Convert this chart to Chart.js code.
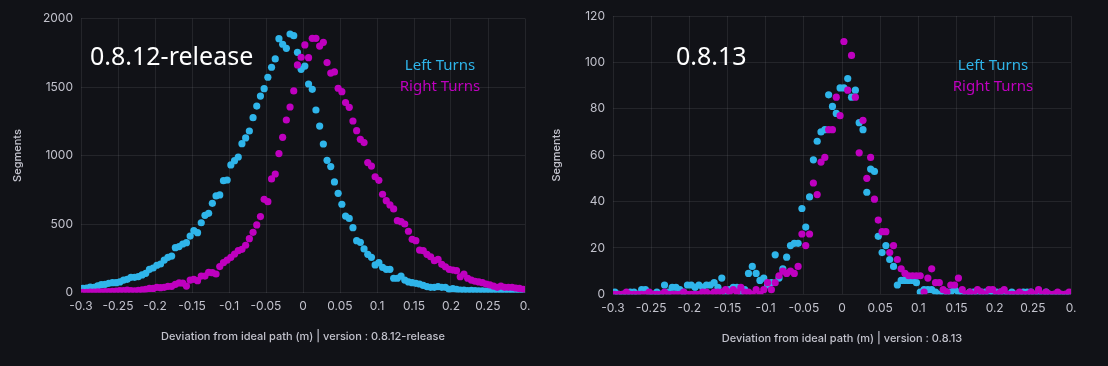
<!DOCTYPE html>
<html>
<head>
<meta charset="utf-8">
<script src="https://cdn.jsdelivr.net/npm/chart.js@4.4.1/dist/chart.umd.min.js"></script>
<style>
  html, body { margin: 0; padding: 0; background: #111217; }
  body { width: 1108px; height: 366px; position: relative; overflow: hidden; }
  canvas { position: absolute; top: 0; }
  #chart812 { left: 0; }
  #chart813 { left: 540px; }
  .version { position: absolute; top: 43px; color: #ffffff; font: 25px "Noto Sans", sans-serif; line-height: 25px; white-space: nowrap; }
  .turns { position: absolute; top: 54px; font: 15px "Noto Sans", sans-serif; line-height: 21px; text-align: center; white-space: nowrap; transform: translateX(-50%); }
</style>
</head>
<body>
<canvas id="chart812" width="540" height="366"></canvas>
<canvas id="chart813" width="568" height="366"></canvas>
<div class="version" id="ver812" style="left:90px"></div>
<div class="version" id="ver813" style="left:676px"></div>
<div class="turns" id="turns812" style="left:440px"></div>
<div class="turns" id="turns813" style="left:993px"></div>
<script>
// deviation bins (m)
const bins = [
  -0.2975, -0.2925, -0.2875, -0.2825, -0.2775, -0.2725, -0.2675, -0.2625, -0.2575, -0.2525,
  -0.2475, -0.2425, -0.2375, -0.2325, -0.2275, -0.2225, -0.2175, -0.2125, -0.2075, -0.2025,
  -0.1975, -0.1925, -0.1875, -0.1825, -0.1775, -0.1725, -0.1675, -0.1625, -0.1575, -0.1525,
  -0.1475, -0.1425, -0.1375, -0.1325, -0.1275, -0.1225, -0.1175, -0.1125, -0.1075, -0.1025,
  -0.0975, -0.0925, -0.0875, -0.0825, -0.0775, -0.0725, -0.0675, -0.0625, -0.0575, -0.0525,
  -0.0475, -0.0425, -0.0375, -0.0325, -0.0275, -0.0225, -0.0175, -0.0125, -0.0075, -0.0025,
  0.0025, 0.0075, 0.0125, 0.0175, 0.0225, 0.0275, 0.0325, 0.0375, 0.0425, 0.0475,
  0.0525, 0.0575, 0.0625, 0.0675, 0.0725, 0.0775, 0.0825, 0.0875, 0.0925, 0.0975,
  0.1025, 0.1075, 0.1125, 0.1175, 0.1225, 0.1275, 0.1325, 0.1375, 0.1425, 0.1475,
  0.1525, 0.1575, 0.1625, 0.1675, 0.1725, 0.1775, 0.1825, 0.1875, 0.1925, 0.1975,
  0.2025, 0.2075, 0.2125, 0.2175, 0.2225, 0.2275, 0.2325, 0.2375, 0.2425, 0.2475,
  0.2525, 0.2575, 0.2625, 0.2675, 0.2725, 0.2775, 0.2825, 0.2875, 0.2925, 0.2975
];

// 0.8.12-release segment counts
const left812 = [
  30, 33, 40, 38, 48, 57, 60, 67, 72, 72, 77, 91, 96, 111, 111, 116, 128, 140, 169, 179,
  199, 208, 237, 257, 266, 327, 335, 354, 364, 412, 451, 437, 509, 563, 578, 651, 705, 712, 816, 821,
  931, 962, 989, 1086, 1128, 1179, 1276, 1361, 1434, 1488, 1571, 1644, 1705, 1853, 1812, 1782, 1887, 1875, 1753, 1629,
  1653, 1522, 1483, 1332, 1215, 1084, 965, 919, 807, 724, 644, 558, 541, 473, 378, 366, 318, 279, 257, 201,
  218, 184, 169, 169, 104, 104, 120, 91, 77, 72, 67, 62, 52, 43, 38, 38, 43, 38, 38, 23,
  28, 23, 18, 18, 13, 15, 14, 12, 12, 10, 9, 8, 8, 7, 6, 6, 5, 5, 4, 4
];
const right812 = [
  2, 2, 3, 3, 4, 5, 6, 7, 9, 11, 13, 14, 17, 14, 12, 15, 19, 23, 30, 30,
  38, 35, 38, 45, 45, 60, 70, 68, 47, 91, 96, 86, 120, 120, 147, 145, 135, 189, 218, 237,
  257, 281, 305, 315, 345, 393, 439, 493, 554, 680, 663, 829, 865, 1014, 1133, 1259, 1354, 1471, 1661, 1717,
  1807, 1714, 1855, 1855, 1799, 1826, 1678, 1602, 1610, 1491, 1466, 1386, 1352, 1252, 1181, 1118, 1094, 948, 923, 845,
  819, 717, 670, 639, 610, 524, 517, 500, 447, 388, 378, 310, 305, 279, 261, 232, 242, 206, 188, 169,
  164, 159, 115, 135, 104, 91, 82, 77, 72, 62, 55, 47, 38, 47, 38, 38, 38, 33, 30, 23
];

// 0.8.13 segment counts
const left813 = [
  1, 0, 0, 0, 1, 1, 0, 2, 2, 0, 0, 1, 0, 4, 1, 3, 3, 2, 1, 4,
  4, 3, 4, 3, 4, 4, 5, 3, 7, 0, 2, 3, 3, 1, 2, 9, 12, 9, 6, 7,
  4, 5, 17, 7, 11, 16, 21, 22, 22, 37, 29, 42, 58, 66, 70, 71, 86, 81, 78, 89,
  89, 93, 85, 88, 74, 71, 44, 54, 53, 25, 18, 21, 15, 12, 4, 6, 6, 6, 6, 5,
  1, 2, 2, 2, 1, 0, 0, 1, 1, 2, 1, 0, 0, 1, 1, 0, 1, 1, 0, 1,
  1, 1, 0, 0, 1, 0, 0, 1, 1, 1, 0, 0, 0, 1, 0, 0, 0, 0, 0, 0
];
const right813 = [
  0, 0, 0, 1, 0, 0, 0, 0, 0, 1, 0, 0, 0, 1, 0, 0, 0, 0, 1, 0,
  0, 0, 0, 1, 1, 0, 1, 1, 1, 2, 1, 2, 1, 3, 1, 1, 0, 2, 0, 2,
  5, 2, 5, 8, 10, 9, 10, 9, 12, 26, 21, 26, 48, 43, 57, 59, 71, 71, 85, 77,
  109, 88, 103, 85, 61, 75, 50, 59, 41, 32, 27, 27, 18, 21, 15, 11, 9, 8, 8, 8,
  8, 1, 7, 11, 5, 5, 2, 1, 4, 4, 7, 2, 0, 1, 0, 2, 1, 0, 2, 2,
  0, 1, 2, 0, 0, 0, 1, 0, 0, 1, 0, 2, 0, 1, 0, 0, 1, 0, 0, 1
];

const seriesNames = ['Left Turns', 'Right Turns'];
const versions = ['0.8.12-release', '0.8.13'];
const xTickLabels = ['-0.3', '-0.25', '-0.2', '-0.15', '-0.1', '-0.05', '0', '0.05', '0.1', '0.15', '0.2', '0.25', '0.'];
const yTicks812 = ['0', '500', '1000', '1500', '2000'];
const yTicks813 = ['0', '20', '40', '60', '80', '100', '120'];

const leftColor = '#2fb5ea';
const rightColor = '#bf00bf';
const textColor = '#c2c2cc';
const gridColor = 'rgba(204,204,220,0.10)';

Chart.defaults.font.family = 'Inter, sans-serif';

const toPoints = (values) => bins.map((x, i) => ({ x, y: values[i] }));

const makeChart = (id, opts) => new Chart(document.getElementById(id), {
  type: 'scatter',
  data: {
    datasets: [
      { label: seriesNames[0], data: toPoints(opts.left), backgroundColor: leftColor, borderWidth: 0, pointRadius: 3.6, pointHoverRadius: 3.6, order: 1 },
      { label: seriesNames[1], data: toPoints(opts.right), backgroundColor: rightColor, borderWidth: 0, pointRadius: 3.6, pointHoverRadius: 3.6, order: 0 }
    ]
  },
  options: {
    responsive: false,
    animation: false,
    events: [],
    layout: { padding: { top: opts.top, right: opts.padRight, left: 0, bottom: 0 } },
    plugins: { legend: { display: false }, tooltip: { enabled: false } },
    scales: {
      x: {
        type: 'linear', min: -0.3, max: 0.3,
        ticks: { stepSize: 0.05, autoSkip: false, maxRotation: 0, padding: 7, color: textColor, font: { size: 12 },
          callback: (v, i) => xTickLabels[i] },
        grid: { color: gridColor, drawTicks: false },
        border: { display: false },
        title: { display: true, text: 'Deviation from ideal path (m) | version : ' + opts.version, color: textColor,
          font: { size: 11, weight: '500' }, padding: { top: 0, bottom: opts.xTitlePad } },
        afterFit: (s) => { s.height = opts.xAxisHeight; }
      },
      y: {
        min: 0, max: opts.yMax,
        ticks: { stepSize: opts.yStep, padding: 8, color: textColor, font: { size: 12 },
          callback: (v, i) => opts.yTicks[i] },
        grid: { color: gridColor, drawTicks: false },
        border: { display: false },
        title: { display: true, text: 'Segments', color: textColor, font: { size: 11, weight: '500' },
          padding: { top: opts.yTitlePad, bottom: 0 } },
        afterFit: (s) => { s.width = opts.yAxisWidth; }
      }
    }
  }
});

makeChart('chart812', {
  left: left812, right: right812, version: versions[0], yMax: 2000, yStep: 500, yTicks: yTicks812,
  top: 18.5, padRight: 15, xAxisHeight: 73.5, yAxisWidth: 81, xTitlePad: 23, yTitlePad: 11
});
makeChart('chart813', {
  left: left813, right: right813, version: versions[1], yMax: 120, yStep: 20, yTicks: yTicks813,
  top: 16, padRight: 37, xAxisHeight: 71.7, yAxisWidth: 73, xTitlePad: 21, yTitlePad: 10
});

document.getElementById('ver812').textContent = versions[0];
document.getElementById('ver813').textContent = versions[1];
['turns812', 'turns813'].forEach(id => {
  document.getElementById(id).innerHTML =
    `<span style="color:${leftColor}">${seriesNames[0]}</span><br><span style="color:${rightColor}">${seriesNames[1]}</span>`;
});
</script>
</body>
</html>
